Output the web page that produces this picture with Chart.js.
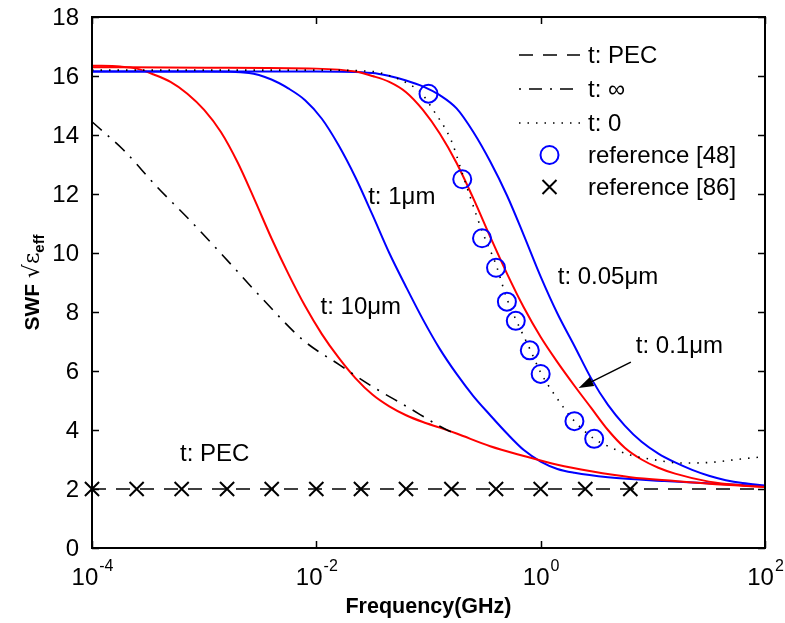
<!DOCTYPE html>
<html>
<head>
<meta charset="utf-8">
<script src="https://cdn.jsdelivr.net/npm/chart.js@4/dist/chart.umd.min.js"></script>
<style>
  body { margin: 0; background: #fff; }
</style>
</head>
<body>
<canvas id="swfChart" width="785" height="623"></canvas>
<script>
// frequencies in GHz, values are SWF*sqrt(eps_eff)
const freqRed10 = [1e-4, 1.78e-4, 2.51e-4, 3.55e-4, 5.01e-4, 7.08e-4, 1e-3, 1.41e-3, 2e-3, 2.82e-3, 3.98e-3, 5.62e-3, 7.94e-3, 0.0112, 0.0158, 0.0224, 0.0316, 0.0447, 0.0631, 0.0891, 0.126, 0.178, 0.355, 0.708, 1.41, 2.82, 6.31, 15.8, 31.6, 100];
const swfRed10 = [16.35, 16.32, 16.25, 16.05, 15.8, 15.4, 14.85, 14.1, 13.05, 11.8, 10.5, 9.3, 8.2, 7.25, 6.45, 5.75, 5.2, 4.8, 4.5, 4.27, 4.08, 3.88, 3.45, 3.12, 2.82, 2.6, 2.4, 2.27, 2.18, 2.07];

const freqBlue1 = [1e-4, 3.16e-4, 1e-3, 2.51e-3, 3.98e-3, 5.62e-3, 7.94e-3, 0.0112, 0.0158, 0.0224, 0.0316, 0.0447, 0.0631, 0.0891, 0.126, 0.178, 0.251, 0.355, 0.501, 0.708, 1, 1.41, 2, 3.98, 12.6, 100];
const swfBlue1 = [16.15, 16.15, 16.15, 16.1, 15.88, 15.58, 15.18, 14.55, 13.65, 12.55, 11.3, 10.0, 8.85, 7.75, 6.75, 5.9, 5.15, 4.5, 3.88, 3.32, 2.93, 2.68, 2.55, 2.4, 2.27, 2.1];

const freqRed01 = [1e-4, 1e-3, 0.01, 0.0224, 0.0316, 0.0447, 0.0631, 0.0891, 0.126, 0.178, 0.251, 0.355, 0.501, 0.708, 1, 1.41, 2, 2.82, 3.98, 5.62, 7.94, 11.2, 15.8, 31.6, 63.1, 100];
const swfRed01 = [16.3, 16.28, 16.25, 16.15, 16.0, 15.8, 15.45, 14.85, 14.05, 13.05, 11.85, 10.55, 9.3, 8.15, 7.15, 6.3, 5.5, 4.75, 4.0, 3.4, 3.0, 2.72, 2.52, 2.25, 2.12, 2.07];

const freqBlue005 = [1e-4, 1e-3, 0.01, 0.0316, 0.0447, 0.0631, 0.0891, 0.126, 0.178, 0.251, 0.355, 0.501, 0.708, 1, 1.41, 2, 2.82, 3.98, 5.62, 7.94, 11.2, 15.8, 22.4, 31.6, 44.7, 63.1, 100];
const swfBlue005 = [16.15, 16.15, 16.15, 16.1, 16.0, 15.85, 15.65, 15.35, 14.9, 14.1, 13.1, 11.95, 10.6, 9.2, 7.95, 6.85, 5.75, 4.85, 4.15, 3.6, 3.2, 2.9, 2.65, 2.45, 2.3, 2.2, 2.12];

const freqInf = [1e-4, 1.17e-4, 1.9e-4, 3.8e-4, 7.5e-4, 1.48e-3, 3.4e-3, 7.6e-3, 0.0162, 0.032, 0.065, 0.13, 0.16];
const swfInf = [14.45, 14.22, 13.5, 12.24, 11.1, 9.9, 8.4, 7.05, 6.2, 5.46, 4.78, 4.1, 3.93];

const freqZero = [1e-4, 1e-3, 0.01, 0.032, 0.046, 0.069, 0.085, 0.11, 0.16, 0.2, 0.3, 0.4, 0.5, 0.6, 0.8, 1, 1.3, 2, 3, 4, 6.3, 10, 18, 32, 56, 100];
const swfZero = [16.2, 16.2, 16.2, 16.15, 16.0, 15.7, 15.45, 14.85, 13.8, 12.7, 10.75, 9.6, 8.45, 7.75, 6.75, 5.95, 5.25, 4.3, 3.7, 3.45, 3.15, 3.0, 2.88, 2.9, 3.0, 3.1];

const freqPec = [1e-4, 100];
const swfPec = [2, 2];

const freqRef48 = [0.1, 0.2, 0.3, 0.4, 0.5, 0.6, 0.8, 1, 2, 3];
const swfRef48 = [15.4, 12.5, 10.5, 9.5, 8.35, 7.7, 6.7, 5.9, 4.3, 3.7];

const freqRef86 = [1e-4, 2.5e-4, 6.3e-4, 1.6e-3, 4e-3, 0.01, 0.025, 0.063, 0.16, 0.4, 1, 2.5, 6.3];
const swfRef86 = [2, 2, 2, 2, 2, 2, 2, 2, 2, 2, 2, 2, 2];

const xTickValues = [1e-4, 1e-2, 1, 100];
const xTickExps = ['-4', '-2', '0', '2'];
const yTickValues = [0, 2, 4, 6, 8, 10, 12, 14, 16, 18];

const FONT = '"Liberation Sans", Arial, sans-serif';
const DASH_PEC = [14, 10];
const DASH_INF = [13, 8, 2, 8];
const DASH_ZERO = [1.5, 7];

function pairs(fs, vs) {
    return fs.map((f, i) => ({ x: f, y: vs[i] }));
}

function curve(fs, vs, color, dash, width) {
    return {
        data: pairs(fs, vs),
        borderColor: color,
        borderWidth: width || 2,
        borderDash: dash || [],
        pointRadius: 0,
        cubicInterpolationMode: 'monotone',
        fill: false
    };
}

const datasets = [
    {
        data: pairs(freqRef48, swfRef48),
        showLine: false, pointStyle: 'circle', pointRadius: 9, pointBorderWidth: 2,
        pointBorderColor: '#0000ff', pointBackgroundColor: 'rgba(0,0,0,0)', clip: false
    },
    {
        data: pairs(freqRef86, swfRef86),
        showLine: false, pointStyle: 'crossRot', pointRadius: 10, pointBorderWidth: 2,
        pointBorderColor: '#000', pointBackgroundColor: '#000', clip: false
    },
    curve(freqPec, swfPec, '#000', DASH_PEC, 1.6),
    curve(freqInf, swfInf, '#000', DASH_INF, 1.6),
    curve(freqZero, swfZero, '#000', DASH_ZERO, 1.6),
    curve(freqRed01, swfRed01, '#ff0000'),
    curve(freqBlue005, swfBlue005, '#0000ff'),
    curve(freqRed10, swfRed10, '#ff0000'),
    curve(freqBlue1, swfBlue1, '#0000ff')
];

// annotation labels placed in data coordinates
const noteTexts = ['t: 1\u03bcm', 't: 10\u03bcm', 't: 0.05\u03bcm', 't: 0.1\u03bcm', 't: PEC'];
const noteFreqs = [0.029, 0.0109, 1.42, 7.05, 6.1e-4];
const noteVals = [11.9, 8.14, 9.19, 6.85, 3.19];
const arrowFrom = [6.37, 6.3];
const arrowTo = [2.18, 5.42];

const decor = {
    id: 'decor',
    afterDraw(chart) {
        const { ctx, chartArea: a, scales: { x, y } } = chart;
        ctx.save();
        ctx.fillStyle = '#000';
        ctx.strokeStyle = '#000';

        // box
        ctx.lineWidth = 2;
        ctx.setLineDash([]);
        ctx.strokeRect(a.left, a.top, a.right - a.left, a.bottom - a.top);

        // inward ticks
        ctx.lineWidth = 1.5;
        ctx.beginPath();
        yTickValues.forEach(v => {
            const py = Math.round(y.getPixelForValue(v)) + 0.5;
            ctx.moveTo(a.left, py); ctx.lineTo(a.left + 7, py);
            ctx.moveTo(a.right, py); ctx.lineTo(a.right - 7, py);
        });
        xTickValues.forEach(v => {
            const px = Math.round(x.getPixelForValue(v)) + 0.5;
            ctx.moveTo(px, a.bottom); ctx.lineTo(px, a.bottom - 7);
            ctx.moveTo(px, a.top); ctx.lineTo(px, a.top + 7);
        });
        ctx.stroke();

        // y tick labels
        ctx.font = '24px ' + FONT;
        ctx.textAlign = 'right';
        ctx.textBaseline = 'middle';
        yTickValues.forEach(v => ctx.fillText(String(v), a.left - 13, y.getPixelForValue(v) + 1));

        // x tick labels 10^n
        xTickValues.forEach((v, i) => {
            const px = x.getPixelForValue(v);
            ctx.font = '24px ' + FONT;
            const wBase = ctx.measureText('10').width;
            ctx.font = '16px ' + FONT;
            const wExp = ctx.measureText(xTickExps[i]).width;
            const left = px - (wBase + wExp) / 2;
            ctx.textAlign = 'left';
            ctx.textBaseline = 'alphabetic';
            ctx.font = '24px ' + FONT;
            ctx.fillText('10', left, a.bottom + 37);
            ctx.font = '16px ' + FONT;
            ctx.fillText(xTickExps[i], left + wBase + 1, a.bottom + 23);
        });

        // x title
        ctx.font = 'bold 21.5px ' + FONT;
        ctx.textAlign = 'center';
        ctx.textBaseline = 'alphabetic';
        ctx.fillText('Frequency(GHz)', (a.left + a.right) / 2, a.bottom + 65);

        // y title: SWF sqrt(eps)_eff, rotated
        ctx.save();
        ctx.translate(39, (a.top + a.bottom) / 2);
        ctx.rotate(-Math.PI / 2);
        const p1 = 'SWF ', p2 = '\u221a\u03b5', p3 = 'eff';
        ctx.font = 'bold 21px ' + FONT;
        const w1 = ctx.measureText(p1).width;
        ctx.font = '22px "DejaVu Serif", serif';
        const w2 = ctx.measureText(p2).width;
        ctx.font = 'bold 15px ' + FONT;
        const w3 = ctx.measureText(p3).width;
        let tx = -(w1 + w2 + w3) / 2;
        ctx.textAlign = 'left';
        ctx.font = 'bold 21px ' + FONT;
        ctx.fillText(p1, tx, 0); tx += w1;
        ctx.font = '22px "DejaVu Serif", serif';
        ctx.fillText(p2, tx, 0); tx += w2;
        ctx.font = 'bold 15px ' + FONT;
        ctx.fillText(p3, tx, 5);
        ctx.restore();

        // annotations
        ctx.font = '24px ' + FONT;
        ctx.textAlign = 'left';
        ctx.textBaseline = 'middle';
        noteTexts.forEach((t, i) => {
            ctx.fillText(t, x.getPixelForValue(noteFreqs[i]), y.getPixelForValue(noteVals[i]));
        });

        // arrow to the 0.1um curve
        const ax0 = x.getPixelForValue(arrowFrom[0]), ay0 = y.getPixelForValue(arrowFrom[1]);
        const ax1 = x.getPixelForValue(arrowTo[0]), ay1 = y.getPixelForValue(arrowTo[1]);
        const ang = Math.atan2(ay1 - ay0, ax1 - ax0);
        ctx.lineWidth = 1.5;
        ctx.beginPath();
        ctx.moveTo(ax0, ay0);
        ctx.lineTo(ax1 - 8 * Math.cos(ang), ay1 - 8 * Math.sin(ang));
        ctx.stroke();
        ctx.beginPath();
        ctx.moveTo(ax1, ay1);
        ctx.lineTo(ax1 - 15 * Math.cos(ang) + 5 * Math.sin(ang), ay1 - 15 * Math.sin(ang) - 5 * Math.cos(ang));
        ctx.lineTo(ax1 - 15 * Math.cos(ang) - 5 * Math.sin(ang), ay1 - 15 * Math.sin(ang) + 5 * Math.cos(ang));
        ctx.closePath();
        ctx.fill();

        // legend
        const legX0 = 519, legX1 = 580, legText = 588;
        const legRows = [55, 89, 123, 155, 187];
        const legOffsets = [0, 21, 0];
        ctx.font = '24px ' + FONT;
        ctx.textBaseline = 'middle';
        ctx.lineWidth = 1.6;
        [DASH_PEC, DASH_INF, DASH_ZERO].forEach((d, i) => {
            ctx.setLineDash(d);
            ctx.lineDashOffset = legOffsets[i];
            ctx.beginPath();
            ctx.moveTo(legX0, legRows[i]);
            ctx.lineTo(legX1, legRows[i]);
            ctx.stroke();
        });
        ctx.setLineDash([]);
        ctx.lineDashOffset = 0;
        ctx.lineWidth = 2;
        const mx = (legX0 + legX1) / 2;
        ctx.strokeStyle = '#0000ff';
        ctx.beginPath();
        ctx.arc(mx, legRows[3], 9, 0, Math.PI * 2);
        ctx.stroke();
        ctx.strokeStyle = '#000';
        ctx.beginPath();
        ctx.moveTo(mx - 7, legRows[4] - 7); ctx.lineTo(mx + 7, legRows[4] + 7);
        ctx.moveTo(mx + 7, legRows[4] - 7); ctx.lineTo(mx - 7, legRows[4] + 7);
        ctx.stroke();
        ['t: PEC', 't: \u221e', 't: 0', 'reference [48]', 'reference [86]'].forEach((t, i) => {
            ctx.fillText(t, legText, legRows[i] + 1);
        });
        ctx.restore();
    }
};

const swfCtx = document.getElementById('swfChart').getContext('2d');
const swfChart = new Chart(swfCtx, {
    type: 'line',
    data: { datasets: datasets },
    options: {
        responsive: false,
        animation: false,
        layout: { padding: { left: 0, right: 20, top: 17, bottom: 0 } },
        plugins: { legend: { display: false }, tooltip: { enabled: false } },
        scales: {
            x: {
                type: 'logarithmic',
                min: 1e-4,
                max: 100,
                grid: { display: false },
                border: { display: false },
                ticks: { display: false },
                afterFit: s => { s.height = 75; }
            },
            y: {
                min: 0,
                max: 18,
                grid: { display: false },
                border: { display: false },
                ticks: { display: false, stepSize: 2 },
                afterFit: s => { s.width = 92; }
            }
        }
    },
    plugins: [decor]
});
</script>
</body>
</html>
